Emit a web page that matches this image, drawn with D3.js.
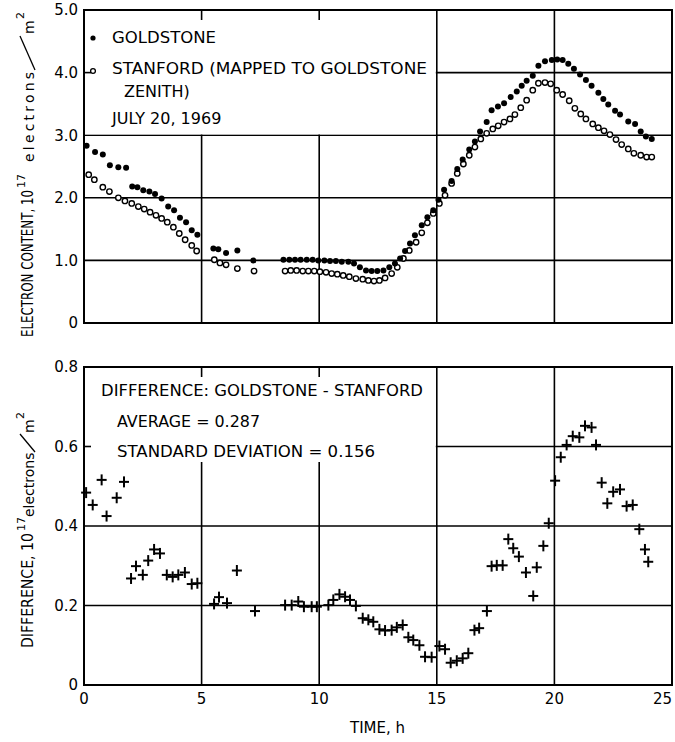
<!DOCTYPE html>
<html><head><meta charset="utf-8">
<script src="https://cdn.jsdelivr.net/npm/d3@7"></script>
<style>body{margin:0;background:#fff}svg{display:block}text{font-family:"DejaVu Sans",sans-serif;fill:#000}</style>
</head><body>
<script>
// ---- data ----
const goldstoneT = [0.11,0.47,0.8,1.1,1.46,1.79,2.05,2.27,2.52,2.78,3.02,3.3,3.58,3.83,4.08,4.34,4.58,4.82,5.5,5.71,6.04,6.52,7.2,
  8.48,8.73,8.97,9.21,9.47,9.72,9.96,10.22,10.46,10.71,10.96,11.24,11.48,11.73,11.99,12.23,12.47,12.73,12.98,13.22,13.44,13.65,13.86,14.07,
  14.36,14.6,14.85,15.07,15.31,15.63,15.87,16.1,16.38,16.62,16.84,17.12,17.33,17.6,17.86,18.14,18.4,18.61,18.82,19.08,19.32,19.6,19.89,20.12,20.35,20.59,20.83,21.09,21.34,21.58,21.87,22.08,22.29,22.58,22.79,23.14,23.43,23.67,23.89,24.14];
const goldstoneV = [2.83,2.73,2.69,2.52,2.49,2.48,2.18,2.17,2.12,2.10,2.06,1.99,1.86,1.80,1.68,1.61,1.48,1.41,1.19,1.18,1.12,1.16,1.0,
  1.01,1.01,1.01,1.01,1.01,1.01,1.0,1.0,0.99,0.99,0.98,0.98,0.95,0.89,0.84,0.83,0.83,0.84,0.89,0.95,1.03,1.15,1.27,1.40,
  1.56,1.69,1.80,1.97,2.13,2.27,2.46,2.61,2.77,2.90,3.06,3.21,3.40,3.46,3.51,3.61,3.70,3.79,3.87,3.95,4.11,4.18,4.20,4.21,4.20,4.14,4.06,3.97,3.88,3.79,3.68,3.58,3.49,3.39,3.33,3.22,3.18,3.06,2.98,2.94];
const stanfordT = [0.2,0.44,0.8,1.08,1.46,1.74,2.03,2.31,2.56,2.81,3.06,3.3,3.54,3.8,4.05,4.3,4.58,4.79,5.54,5.78,6.04,6.52,7.23,
  8.55,8.79,9.04,9.3,9.54,9.79,10.03,10.29,10.53,10.77,11.02,11.28,11.56,11.85,12.09,12.33,12.56,12.8,13.08,13.32,13.58,13.83,14.12,
  14.36,14.6,14.85,15.11,15.35,15.63,15.87,16.13,16.38,16.62,16.87,17.12,17.38,17.61,17.86,18.11,18.32,18.57,18.82,19.08,19.32,19.6,19.84,20.1,20.35,20.63,20.87,21.12,21.34,21.63,21.87,22.11,22.36,22.62,22.86,23.14,23.38,23.67,23.92,24.14];
const stanfordV = [2.37,2.29,2.17,2.10,2.0,1.95,1.91,1.86,1.82,1.77,1.72,1.67,1.61,1.53,1.43,1.33,1.24,1.15,1.01,0.96,0.93,0.87,0.83,
  0.83,0.84,0.84,0.83,0.83,0.83,0.82,0.81,0.79,0.78,0.76,0.74,0.71,0.70,0.68,0.67,0.68,0.72,0.79,0.89,1.03,1.16,1.29,
  1.44,1.60,1.75,1.91,2.04,2.23,2.39,2.54,2.68,2.81,2.94,3.03,3.10,3.15,3.21,3.26,3.33,3.44,3.56,3.72,3.83,3.84,3.82,3.72,3.65,3.55,3.43,3.34,3.26,3.18,3.12,3.07,3.01,2.93,2.85,2.78,2.71,2.68,2.65,2.65];
const diffT = [0.09,0.37,0.75,0.96,1.39,1.7,2.0,2.21,2.5,2.73,2.98,3.23,3.52,3.77,4.01,4.29,4.58,4.82,5.53,5.74,6.08,6.5,7.27,
  8.55,8.83,9.11,9.35,9.68,9.9,10.39,10.6,10.86,11.1,11.31,11.56,11.85,12.09,12.3,12.56,12.8,13.08,13.3,13.55,13.79,14.0,14.26,14.5,14.78,
  15.11,15.35,15.59,15.85,16.1,16.34,16.6,16.8,17.13,17.33,17.55,17.8,18.04,18.25,18.49,18.79,19.1,19.25,19.53,19.76,20.03,20.27,20.52,20.78,
  21.06,21.3,21.58,21.77,22.01,22.25,22.5,22.79,23.07,23.33,23.61,23.85,23.99];
const diffV = [0.484,0.453,0.516,0.425,0.471,0.511,0.268,0.299,0.277,0.313,0.341,0.331,0.277,0.272,0.277,0.283,0.254,0.256,0.204,0.221,0.206,0.288,0.186,
  0.201,0.201,0.21,0.197,0.197,0.197,0.201,0.214,0.228,0.222,0.214,0.199,0.168,0.164,0.159,0.14,0.137,0.138,0.145,0.151,0.12,0.113,0.10,0.071,0.070,
  0.098,0.09,0.056,0.061,0.067,0.08,0.138,0.143,0.186,0.299,0.301,0.301,0.367,0.344,0.323,0.283,0.224,0.296,0.35,0.407,0.514,0.573,0.604,0.626,
  0.623,0.652,0.648,0.604,0.509,0.457,0.486,0.492,0.45,0.453,0.392,0.341,0.31];
const xTicks = [0,5,10,15,20,25];
const xTickLabels = ["0","5","10","15","20","25"];
const topTicks = [0,1,2,3,4,5];
const topTickLabels = ["0","1.0","2.0","3.0","4.0","5.0"];
const botTicks = [0,0.2,0.4,0.6,0.8];
const botTickLabels = ["0","0.2","0.4","0.6","0.8"];

// ---- layout ----
const W = 675, H = 742;
const svg = d3.select("body").append("svg").attr("width", W).attr("height", H);
const x = d3.scaleLinear().domain([0,25]).range([84,672]);
const yTop = d3.scaleLinear().domain([0,5]).range([323,10]);
const yBot = d3.scaleLinear().domain([0,0.8]).range([685,367]);

function panel(y, ticks, labels, hGrid, boxBottom) {
  const g = svg.append("g");
  const [y0, y1] = y.range();
  g.selectAll(".vg").data([5,10,15,20]).join("line")
    .attr("x1", d => x(d)).attr("x2", d => x(d)).attr("y1", y1).attr("y2", y0)
    .attr("stroke", "#000").attr("stroke-width", 1.6);
  g.selectAll(".hg").data(hGrid).join("line")
    .attr("x1", x(0)).attr("x2", x(25)).attr("y1", d => y(d)).attr("y2", d => y(d))
    .attr("stroke", "#000").attr("stroke-width", 1.6);
  // white annotation box (left of the 15 h gridline)
  g.append("rect").attr("x", x(0)).attr("y", y1).attr("width", x(15) - x(0) - 1).attr("height", boxBottom - y1).attr("fill", "#fff");
  g.selectAll(".tk").data([5,10]).join("line")
    .attr("x1", d => x(d)).attr("x2", d => x(d)).attr("y1", y1).attr("y2", y1 + 10)
    .attr("stroke", "#000").attr("stroke-width", 1.6);
  g.selectAll(".tl").data(hGrid.filter(d => y(d) > y1 && y(d) < boxBottom)).join("line")
    .attr("x1", x(0)).attr("x2", x(0) + 7).attr("y1", d => y(d)).attr("y2", d => y(d))
    .attr("stroke", "#000").attr("stroke-width", 1.6);
  g.append("rect").attr("x", x(0)).attr("y", y1).attr("width", x(25) - x(0)).attr("height", y0 - y1)
    .attr("fill", "none").attr("stroke", "#000").attr("stroke-width", 2);
  g.selectAll(".yl").data(ticks).join("text")
    .attr("x", 78).attr("y", d => y(d)).attr("dy", "0.36em").attr("text-anchor", "end")
    .attr("font-size", 15).text((d, i) => labels[i]);
  return g;
}

const gTop = panel(yTop, topTicks, topTickLabels, [1,2,3,4], yTop(3) - 0.8);
const gBot = panel(yBot, botTicks, botTickLabels, [0.2,0.4,0.6], 462);

svg.selectAll(".xl").data(xTicks).join("text")
  .attr("x", d => d === 25 ? 672 : x(d)).attr("y", 704).attr("text-anchor", d => d === 25 ? "end" : "middle")
  .attr("font-size", 15).text((d, i) => xTickLabels[i]);
svg.append("text").attr("x", 350).attr("y", 733).attr("font-size", 15).text("TIME, h");

// ---- marks ----
const gold = goldstoneT.map((t, i) => ({t, v: goldstoneV[i]}));
const stan = stanfordT.map((t, i) => ({t, v: stanfordV[i]}));
const diff = diffT.map((t, i) => ({t, v: diffV[i]}));

gTop.selectAll(".st").data(stan).join("circle")
  .attr("cx", d => x(d.t)).attr("cy", d => yTop(d.v)).attr("r", 2.7)
  .attr("fill", "#fff").attr("stroke", "#000").attr("stroke-width", 1.4);
gTop.selectAll(".gd").data(gold).join("circle")
  .attr("cx", d => x(d.t)).attr("cy", d => yTop(d.v)).attr("r", 3)
  .attr("fill", "#000");

const pl = gBot.selectAll(".pl").data(diff).join("g")
  .attr("transform", d => `translate(${x(d.t)},${yBot(d.v)})`);
pl.append("line").attr("x1", -5).attr("x2", 5).attr("stroke", "#000").attr("stroke-width", 2);
pl.append("line").attr("y1", -5.5).attr("y2", 5.5).attr("stroke", "#000").attr("stroke-width", 2);

// ---- legend / annotations ----
gTop.append("circle").attr("cx", 93).attr("cy", 38).attr("r", 2.6).attr("fill", "#000");
gTop.append("circle").attr("cx", 93).attr("cy", 71).attr("r", 2.4).attr("fill", "#fff").attr("stroke", "#000").attr("stroke-width", 1.3);
const ann = [
  [gTop, "GOLDSTONE", 112, 43, 104],
  [gTop, "STANFORD (MAPPED TO GOLDSTONE", 112, 74, 315],
  [gTop, "ZENITH)", 124, 96.5, 0],
  [gTop, "JULY 20, 1969", 112, 124, 0],
  [gBot, "DIFFERENCE: GOLDSTONE - STANFORD", 101, 396, 322],
  [gBot, "AVERAGE = 0.287", 117, 426.5, 143],
  [gBot, "STANDARD DEVIATION = 0.156", 117, 456.5, 258]
];
ann.forEach(([g, s, tx, ty, len]) => {
  const t = g.append("text").attr("x", tx).attr("y", ty).attr("font-size", 16).text(s);
  if (len) t.attr("textLength", len).attr("lengthAdjust", "spacingAndGlyphs");
});

// ---- rotated axis titles ----
function yTitle(baseX, parts, slash) {
  const g = svg.append("g").attr("transform", `translate(${baseX},0) rotate(-90)`);
  parts.forEach(p => {
    const t = g.append("text").attr("x", -p.from).attr("y", p.dy || 0).attr("font-size", p.fs).text(p.s);
    if (p.to) t.attr("textLength", p.from - p.to).attr("lengthAdjust", p.adj || "spacingAndGlyphs");
  });
  g.append("line").attr("x1", -slash[0]).attr("y1", 2).attr("x2", -slash[1]).attr("y2", -13)
    .attr("stroke", "#000").attr("stroke-width", 1.3);
}
yTitle(33, [
  {s: "ELECTRON CONTENT, 10", from: 337, to: 190, fs: 16},
  {s: "17", from: 188, fs: 11, dy: -8},
  {s: "electrons", from: 162, to: 72, fs: 14, dy: 1, adj: "spacing"},
  {s: "m", from: 34, fs: 14, dy: 1},
  {s: "2", from: 19, fs: 11, dy: -9}
], [70, 36]);
yTitle(33, [
  {s: "DIFFERENCE, 10", from: 648, to: 533, fs: 16},
  {s: "17", from: 531, fs: 11, dy: -8},
  {s: "electrons", from: 517, fs: 14, dy: 1},
  {s: "m", from: 433, fs: 14, dy: 1},
  {s: "2", from: 419, fs: 11, dy: -9}
], [452, 434]);
</script>
</body></html>
